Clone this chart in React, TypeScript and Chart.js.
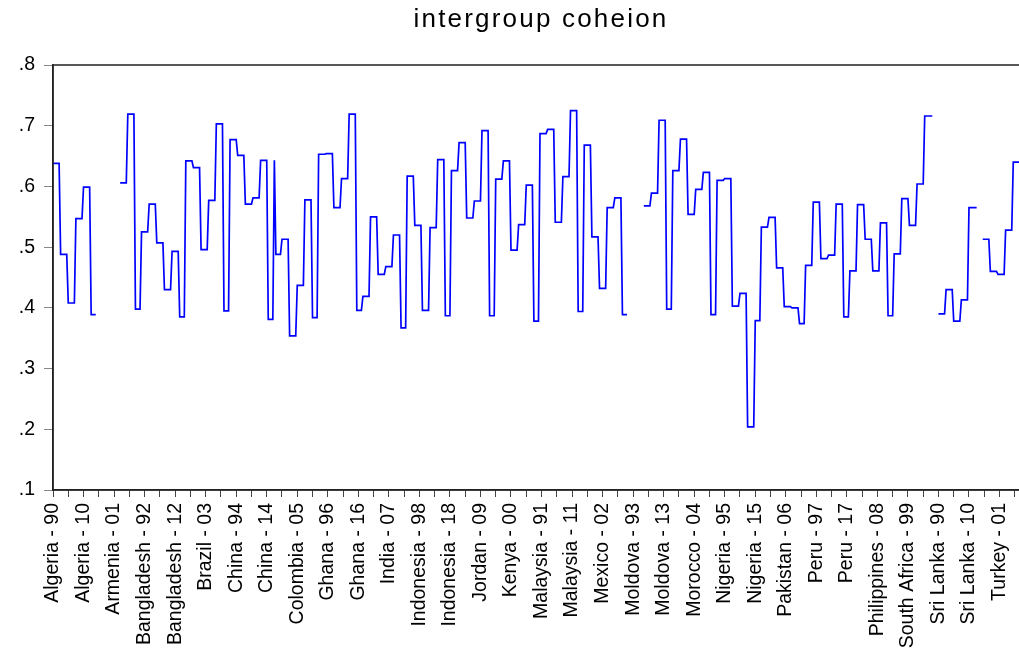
import React, { useEffect, useRef } from "react";
import { Chart, registerables } from "chart.js";

Chart.register(...registerables);

const titleText = "intergroup coheion";

const countries = [
  "Algeria", "Armenia", "Bangladesh", "Brazil", "China", "Colombia", "Ghana", "India",
  "Indonesia", "Jordan", "Kenya", "Malaysia", "Mexico", "Moldova", "Morocco", "Nigeria",
  "Pakistan", "Peru", "Philippines", "South Africa", "Sri Lanka", "Turkey",
];

const years = [
  1990, 1991, 1992, 1993, 1994, 1995, 1996, 1997, 1998, 1999,
  2000, 2001, 2002, 2003, 2004, 2005, 2006, 2007, 2008, 2009,
  2010, 2011, 2012, 2013, 2014, 2015, 2016, 2017, 2018,
];

const yTicks = [0.1, 0.2, 0.3, 0.4, 0.5, 0.6, 0.7, 0.8];

const algeria = [.638,.638,.638,.638,.638,.488,.488,.488,.488,.488,.408,.408,.408,.408,.408,.547,.547,.547,.547,.547,.599,.599,.599,.599,.599,.389,.389,.389,.389];
const armenia = [null,null,null,null,null,null,null,null,null,null,null,null,null,null,null,.606,.606,.606,.606,.606,.719,.719,.719,.719,.719,.398,.398,.398,.398];
const bangladesh = [.525,.525,.525,.525,.525,.571,.571,.571,.571,.571,.507,.507,.507,.507,.507,.430,.430,.430,.430,.430,.493,.493,.493,.493,.493,.385,.385,.385,.385];
const brazil = [.642,.642,.642,.642,.642,.631,.631,.631,.631,.631,.496,.496,.496,.496,.496,.577,.577,.577,.577,.577,.703,.703,.703,.703,.703,.395,.395,.395,.395];
const china = [.677,.677,.677,.677,.677,.651,.651,.651,.651,.651,.571,.571,.571,.571,.571,.581,.581,.581,.581,.581,.643,.643,.643,.643,.643,.381,.381,.381,.381];
const colombia = [.643,.488,.488,.488,.488,.513,.513,.513,.513,.513,.354,.354,.354,.354,.354,.437,.437,.437,.437,.437,.578,.578,.578,.578,.578,.384,.384,.384,.384];
const ghana = [.653,.653,.653,.653,.653,.654,.654,.654,.654,.654,.565,.565,.565,.565,.565,.613,.613,.613,.613,.613,.719,.719,.719,.719,.719,.396,.396,.396,.396];
const india = [.419,.419,.419,.419,.419,.550,.550,.550,.550,.550,.455,.455,.455,.455,.455,.468,.468,.468,.468,.468,.520,.520,.520,.520,.520,.367,.367,.367,.367];
const indonesia = [.617,.617,.617,.617,.617,.536,.536,.536,.536,.536,.396,.396,.396,.396,.396,.532,.532,.532,.532,.532,.644,.644,.644,.644,.644,.387,.387,.387,.387];
const jordan = [.626,.626,.626,.626,.626,.672,.672,.672,.672,.672,.548,.548,.548,.548,.548,.576,.576,.576,.576,.576,.692,.692,.692,.692,.692,.387,.387,.387,.387];
const kenya = [.612,.612,.612,.612,.612,.642,.642,.642,.642,.642,.495,.495,.495,.495,.495,.537,.537,.537,.537,.537,.602,.602,.602,.602,.602,.378,.378,.378,.378];
const malaysia = [.687,.687,.687,.687,.687,.694,.694,.694,.694,.694,.541,.541,.541,.541,.541,.616,.616,.616,.616,.616,.725,.725,.725,.725,.725,.394,.394,.394,.394];
const mexico = [.668,.668,.668,.668,.668,.517,.517,.517,.517,.517,.432,.432,.432,.432,.432,.565,.565,.565,.565,.565,.581,.581,.581,.581,.581,.389,.389,.389,.389];
const moldova = [null,null,null,null,null,null,null,null,null,null,.568,.568,.568,.568,.568,.589,.589,.589,.589,.589,.709,.709,.709,.709,.709,.398,.398,.398,.398];
const morocco = [.626,.626,.626,.626,.626,.678,.678,.678,.678,.678,.554,.554,.554,.554,.554,.595,.595,.595,.595,.595,.623,.623,.623,.623,.623,.389,.389,.389,.389];
const nigeria = [.610,.610,.610,.610,.610,.613,.613,.613,.613,.613,.403,.403,.403,.403,.403,.424,.424,.424,.424,.424,.204,.204,.204,.204,.204,.379,.379,.379,.379];
const pakistan = [.533,.533,.533,.533,.533,.549,.549,.549,.549,.549,.466,.466,.466,.466,.466,.402,.402,.402,.402,.402,.400,.400,.400,.400,.400,.374,.374,.374,.374];
const peru = [.470,.470,.470,.470,.470,.574,.574,.574,.574,.574,.481,.481,.481,.481,.481,.487,.487,.487,.487,.487,.571,.571,.571,.571,.571,.385,.385,.385,.385];
const philippines = [.461,.461,.461,.461,.461,.570,.570,.570,.570,.570,.513,.513,.513,.513,.513,.461,.461,.461,.461,.461,.540,.540,.540,.540,.540,.387,.387,.387,.387];
const southAfrica = [.489,.489,.489,.489,.489,.580,.580,.580,.580,.580,.536,.536,.536,.536,.536,.604,.604,.604,.604,.604,.716,.716,.716,.716,.716,.716,null,null,null];
const sriLanka = [.390,.390,.390,.390,.390,.430,.430,.430,.430,.430,.378,.378,.378,.378,.378,.413,.413,.413,.413,.413,.565,.565,.565,.565,.565,.565,null,null,null];
const turkey = [.513,.513,.513,.513,.513,.460,.460,.460,.460,.460,.455,.455,.455,.455,.455,.528,.528,.528,.528,.528,.640,.640,.640,.640,.640,null,null,null,null];

const seriesByCountry = [
  algeria, armenia, bangladesh, brazil, china, colombia, ghana, india, indonesia, jordan,
  kenya, malaysia, mexico, moldova, morocco, nigeria, pakistan, peru, philippines,
  southAfrica, sriLanka, turkey,
];

const FONT = '"Liberation Sans", Arial, Helvetica, sans-serif';

const framePlugin = {
  id: "frame",
  afterDatasetsDraw(chart: any) {
    const { ctx, chartArea } = chart;
    ctx.save();
    ctx.strokeStyle = "#222";
    ctx.lineWidth = 1.5;
    ctx.strokeRect(chartArea.left, chartArea.top, chartArea.right - chartArea.left, chartArea.bottom - chartArea.top);
    ctx.restore();
  },
};

const centeredTitlePlugin = {
  id: "centeredTitle",
  afterDraw(chart: any) {
    const { ctx, chartArea } = chart;
    ctx.save();
    ctx.fillStyle = "#000";
    ctx.font = `normal 26px ${FONT}`;
    try {
      (ctx as any).letterSpacing = "2.2px";
    } catch (e) {}
    ctx.textAlign = "center";
    ctx.textBaseline = "middle";
    ctx.fillText(titleText, (chartArea.left + chartArea.right) / 2 + 1, 20);
    ctx.restore();
  },
};

export default function App() {
  const ref = useRef<HTMLCanvasElement>(null);

  useEffect(() => {
    const labels: string[] = [];
    const points: { x: number; y: number | null }[] = [];
    countries.forEach((c, ci) => {
      years.forEach((yr, yi) => {
        const idx = ci * years.length + yi;
        labels.push(`${c} - ${String(yr).slice(2)}`);
        points.push({ x: idx, y: seriesByCountry[ci][yi] });
      });
    });
    const total = labels.length;

    const chart = new Chart(ref.current as HTMLCanvasElement, {
      type: "line",
      data: {
        datasets: [
          {
            data: points as any,
            borderColor: "#0000ff",
            borderWidth: 1.7,
            pointRadius: 0,
            tension: 0,
            fill: false,
            spanGaps: false,
          },
        ],
      },
      options: {
        animation: false,
        responsive: false,
        devicePixelRatio: 1,
        layout: { padding: 0 },
        plugins: {
          legend: { display: false },
          tooltip: { enabled: false },
          title: {
            display: true,
            text: titleText,
            color: "rgba(0,0,0,0)",
            font: { family: FONT, size: 26, weight: "normal", lineHeight: 1.2 },
            padding: { top: 4, bottom: 29.8 },
          },
        },
        scales: {
          x: {
            type: "linear",
            min: 0,
            max: total,
            afterBuildTicks: (scale: any) => {
              const t: { value: number }[] = [];
              for (let v = 0; v < total; v += 10) t.push({ value: v });
              scale.ticks = t;
            },
            afterFit: (scale: any) => {
              scale.height = 167;
              scale.paddingLeft = 0;
              scale.paddingRight = 0;
            },
            ticks: {
              autoSkip: false,
              maxRotation: 90,
              minRotation: 90,
              padding: 6,
              color: "#000",
              font: { family: FONT, size: 19.5 },
              callback: (v: any) => {
                const i = Math.round(Number(v));
                return i % 20 === 0 ? labels[i] : "";
              },
            },
            grid: { drawOnChartArea: false, tickLength: 7, color: "#444", lineWidth: 1 },
            border: { display: true, color: "#222", width: 1.5 },
          },
          y: {
            min: 0.1,
            max: 0.8,
            afterBuildTicks: (scale: any) => {
              scale.ticks = yTicks.map((v) => ({ value: v }));
            },
            afterFit: (scale: any) => {
              scale.width = 53;
            },
            ticks: {
              padding: 9,
              color: "#000",
              font: { family: FONT, size: 19.5 },
              callback: (v: any) => Number(v).toFixed(1).replace(/^0/, ""),
            },
            grid: { drawOnChartArea: false, tickLength: 9, color: "#888", lineWidth: 1 },
            border: { display: true, color: "#222", width: 1.5 },
          },
        },
      },
      plugins: [framePlugin, centeredTitlePlugin],
    });
    return () => chart.destroy();
  }, []);

  return (
    <div
      style={{
        position: "fixed",
        left: 0,
        top: 0,
        width: 1019,
        height: 657,
        overflow: "hidden",
        background: "#fff",
      }}
    >
      <canvas ref={ref} width={1027} height={657} style={{ display: "block" }} />
    </div>
  );
}
